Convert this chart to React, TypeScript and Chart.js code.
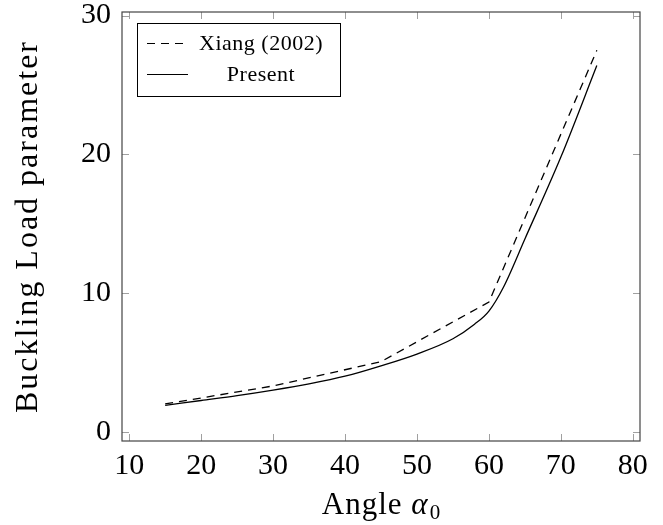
import React, { useEffect, useRef } from "react";
import { Chart, registerables } from "chart.js";

Chart.register(...registerables);

const xiangAngles = [15, 30, 45, 60, 75];
const xiangValues = [2.0, 3.3, 5.05, 9.35, 27.5];
const presentAngles = [15, 20, 25, 30, 35, 40, 45, 50, 55, 58, 60, 62, 65, 70, 75];
const presentValues = [1.9, 2.25, 2.6, 3.0, 3.45, 4.0, 4.75, 5.6, 6.7, 7.75, 8.7, 10.4, 13.9, 19.8, 26.4];
const xTicks = [10, 20, 30, 40, 50, 60, 70, 80];
const yTicks = [0, 10, 20, 30];
const legendLabels = ["Xiang (2002)", "Present"];

const SERIF = "'Liberation Serif', 'DejaVu Serif', serif";

const framePlugin = {
  id: "frame",
  afterDraw(chart: any) {
    const ctx = chart.ctx;
    const a = chart.chartArea;
    const xs = chart.scales.x;
    const ys = chart.scales.y;
    ctx.save();
    ctx.strokeStyle = "#a0a0a0";
    ctx.lineWidth = 1;
    const tl = 7;
    ctx.beginPath();
    xTicks.forEach((t) => {
      const px = Math.round(xs.getPixelForValue(t)) + 0.5;
      ctx.moveTo(px, a.bottom);
      ctx.lineTo(px, a.bottom - tl);
      ctx.moveTo(px, a.top);
      ctx.lineTo(px, a.top + tl);
    });
    yTicks.forEach((t) => {
      const py = Math.round(ys.getPixelForValue(t)) + 0.5;
      ctx.moveTo(a.left, py);
      ctx.lineTo(a.left + tl, py);
      ctx.moveTo(a.right, py);
      ctx.lineTo(a.right - tl, py);
    });
    ctx.stroke();
    ctx.strokeStyle = "#444";
    ctx.lineWidth = 1.2;
    ctx.strokeRect(a.left, a.top, a.right - a.left, a.bottom - a.top);

    // legend
    const lx = 137, ly = 23, lw = 203, lh = 73;
    ctx.fillStyle = "#fff";
    ctx.fillRect(lx, ly, lw, lh);
    ctx.strokeStyle = "#000";
    ctx.lineWidth = 1;
    ctx.strokeRect(lx + 0.5, ly + 0.5, lw, lh);
    ctx.lineWidth = 1.2;
    ctx.beginPath();
    ctx.setLineDash([8, 6]);
    ctx.moveTo(147, 43.5);
    ctx.lineTo(188, 43.5);
    ctx.stroke();
    ctx.setLineDash([]);
    ctx.beginPath();
    ctx.moveTo(147, 74.5);
    ctx.lineTo(188, 74.5);
    ctx.stroke();
    ctx.fillStyle = "#000";
    ctx.font = `22px ${SERIF}`;
    ctx.textAlign = "center";
    ctx.textBaseline = "middle";
    (ctx as any).letterSpacing = "0.5px";
    ctx.fillText(legendLabels[0], 261, 44);
    ctx.fillText(legendLabels[1], 261, 75);

    // y title
    ctx.save();
    ctx.translate(29, (a.top + a.bottom) / 2);
    ctx.rotate(-Math.PI / 2);
    ctx.font = `32px ${SERIF}`;
    (ctx as any).letterSpacing = "2px";
    ctx.textAlign = "center";
    ctx.textBaseline = "middle";
    ctx.fillText("Buckling Load parameter", 0, 0);
    ctx.restore();

    // x title: Angle α₀
    const cx = (a.left + a.right) / 2;
    const by = 514;
    ctx.textBaseline = "alphabetic";
    ctx.textAlign = "left";
    (ctx as any).letterSpacing = "1px";
    const p1 = "Angle ";
    ctx.font = `31px ${SERIF}`;
    const w1 = ctx.measureText(p1).width;
    ctx.font = `italic 31px ${SERIF}`;
    const w2 = ctx.measureText("α").width;
    ctx.font = `21px ${SERIF}`;
    const w3 = ctx.measureText("0").width;
    const x0 = cx - (w1 + w2 + w3) / 2;
    ctx.font = `31px ${SERIF}`;
    ctx.fillText(p1, x0, by);
    ctx.font = `italic 31px ${SERIF}`;
    ctx.fillText("α", x0 + w1, by);
    ctx.font = `21px ${SERIF}`;
    ctx.fillText("0", x0 + w1 + w2 + 1, by + 5);
    ctx.restore();
  },
};

export default function App() {
  const ref = useRef<HTMLCanvasElement>(null);
  useEffect(() => {
    const chart = new Chart(ref.current!, {
      type: "line",
      data: {
        datasets: [
          {
            label: legendLabels[0],
            data: xiangAngles.map((x, i) => ({ x, y: xiangValues[i] })),
            borderColor: "#000",
            borderWidth: 1.3,
            borderDash: [8, 6],
            pointRadius: 0,
            tension: 0,
            fill: false,
          },
          {
            label: legendLabels[1],
            data: presentAngles.map((x, i) => ({ x, y: presentValues[i] })),
            borderColor: "#000",
            borderWidth: 1.3,
            pointRadius: 0,
            cubicInterpolationMode: "monotone",
            fill: false,
          },
        ],
      },
      options: {
        responsive: false,
        animation: false,
        events: [],
        layout: { padding: { top: 12, right: 23, left: 0, bottom: 0 } },
        plugins: { legend: { display: false }, tooltip: { enabled: false } },
        scales: {
          x: {
            type: "linear",
            min: 9,
            max: 81,
            afterFit: (s: any) => {
              s.height = 84;
              s.paddingLeft = 0;
              s.paddingRight = 0;
            },
            afterBuildTicks: (s: any) => {
              s.ticks = xTicks.map((v) => ({ value: v }));
            },
            grid: { display: false, drawTicks: false },
            border: { display: false },
            ticks: {
              color: "#000",
              font: { family: SERIF, size: 30 },
              padding: 7,
              maxRotation: 0,
            },
          },
          y: {
            type: "linear",
            min: -0.67,
            max: 30.26,
            afterFit: (s: any) => {
              s.width = 122;
              s.paddingTop = 0;
              s.paddingBottom = 0;
            },
            afterBuildTicks: (s: any) => {
              s.ticks = yTicks.map((v) => ({ value: v }));
            },
            grid: { display: false, drawTicks: false },
            border: { display: false },
            ticks: {
              color: "#000",
              font: { family: SERIF, size: 30 },
              padding: 11,
            },
          },
        },
      },
      plugins: [framePlugin],
    });
    return () => chart.destroy();
  }, []);
  return (
    <div style={{ position: "fixed", left: 0, top: 0, width: 663, height: 525, background: "#fff" }}>
      <canvas ref={ref} width={663} height={525} />
    </div>
  );
}
